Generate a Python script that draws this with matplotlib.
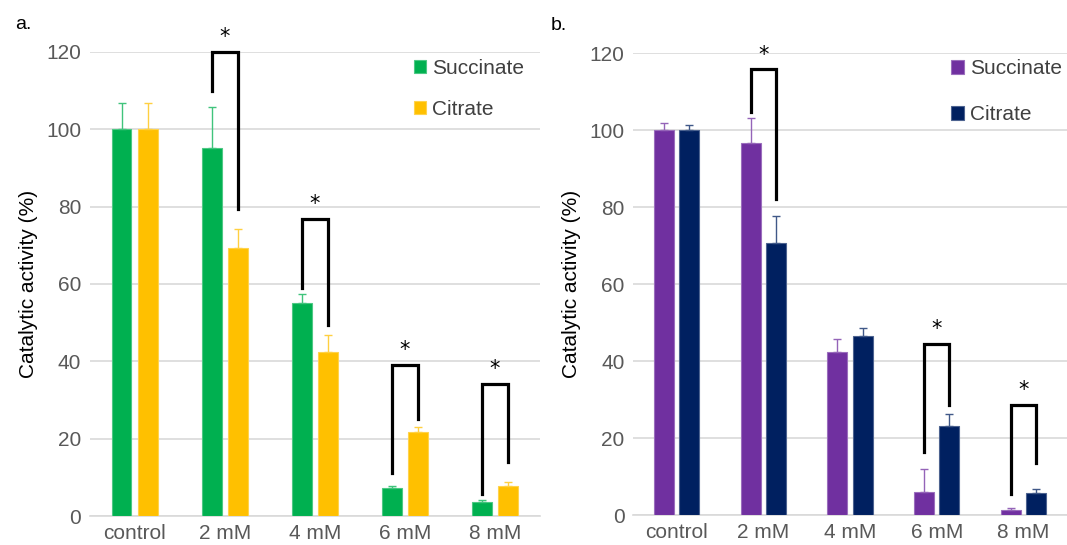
import numpy as np
import matplotlib
matplotlib.use("Agg")
import matplotlib.pyplot as plt

plt.rcParams['font.family'] = ['Liberation Sans', 'DejaVu Sans']

categories = ['control', '2 mM', '4 mM', '6 mM', '8 mM']
series_names = ['Succinate', 'Citrate']

# panel a
a_succ = [100, 95.3, 55.1, 7.2, 3.7]
a_succ_err = [6.8, 10.6, 2.2, 0.6, 0.5]
a_cit = [100, 69.2, 42.5, 21.6, 7.8]
a_cit_err = [6.8, 5.0, 4.2, 1.3, 0.9]
# brackets: category index, top, left leg bottom, right leg bottom
a_brackets = [(1, 120, 109.9, 79.3), (2, 76.9, 58.9, 49.3),
              (3, 39.1, 11.1, 25.2), (4, 34.2, 5.8, 13.9)]

# panel b
b_succ = [100, 96.7, 42.3, 5.9, 1.4]
b_succ_err = [1.8, 6.5, 3.3, 6.0, 0.3]
b_cit = [100, 70.6, 46.5, 23.0, 5.6]
b_cit_err = [1.4, 7.0, 2.1, 3.2, 1.2]
b_brackets = [(1, 115.8, 104.6, 82.2), (3, 44.5, 16.3, 28.5),
              (4, 28.6, 5.4, 13.5)]

yticks = [0, 20, 40, 60, 80, 100, 120]

fig = plt.figure(figsize=(10.67, 5.45), dpi=100)


def lighten(c, amt):
    r, g, b, _ = matplotlib.colors.to_rgba(c)
    return (r + (1 - r) * amt, g + (1 - g) * amt, b + (1 - b) * amt)


def draw_panel(ax, succ, succ_err, cit, cit_err, brackets, colors, label, width, offset, label_x):
    x = np.arange(len(categories))
    ax.bar(x - offset, succ, width, color=colors[0], edgecolor=lighten(colors[0], 0.3),
           linewidth=0.8, label=series_names[0], zorder=3)
    ax.bar(x + offset, cit, width, color=colors[1], edgecolor=lighten(colors[1], 0.3),
           linewidth=0.8, label=series_names[1], zorder=3)
    ax.errorbar(x - offset, succ, yerr=[np.zeros(len(x)), succ_err], fmt='none',
                ecolor=lighten(colors[0], 0.25), elinewidth=1, capsize=3, capthick=1, zorder=4)
    ax.errorbar(x + offset, cit, yerr=[np.zeros(len(x)), cit_err], fmt='none',
                ecolor=lighten(colors[1], 0.25), elinewidth=1, capsize=3, capthick=1, zorder=4)

    # significance brackets
    for i, top, lbot, rbot in brackets:
        xl, xr = i - offset, i + offset
        ax.plot([xl, xl, xr, xr], [lbot, top, top, rbot], color='black', lw=2.3,
                solid_joinstyle='miter', zorder=5, clip_on=False)
        ax.text(i, top + 1.2, '*', ha='center', va='bottom', fontsize=15,
                family='DejaVu Sans', zorder=5, clip_on=False)

    ax.set_xlim(-0.5, len(categories) - 0.5)
    ax.set_ylim(0, 120)
    ax.set_yticks(yticks)
    ax.set_xticks(x)
    ax.set_xticklabels(categories)
    ax.tick_params(length=0, labelsize=15, colors='#595959', pad=6)
    ax.yaxis.grid(True, color='#d9d9d9', lw=1.2, zorder=0)
    ax.set_axisbelow(True)
    for s in ['top', 'right', 'left']:
        ax.spines[s].set_visible(False)
    ax.spines['bottom'].set_color('#d9d9d9')
    ax.spines['bottom'].set_linewidth(1.2)
    ax.set_ylabel('Catalytic activity (%)', fontsize=15, labelpad=6)
    ax.text(label_x, 1.05, label, transform=ax.transAxes, fontsize=14)


ax1 = fig.add_axes([0.0839, 0.0532, 0.4222, 0.8514])
draw_panel(ax1, a_succ, a_succ_err, a_cit, a_cit_err, a_brackets,
           ['#00B050', '#FFC000'], 'a.', 0.22, 0.145, -0.165)
ax1.legend(loc='upper left', bbox_to_anchor=(0.678, 1.025), frameon=False,
           fontsize=15, handlelength=0.6, handleheight=0.6,
           handletextpad=0.3, labelspacing=1.05, labelcolor='#404040')

ax2 = fig.add_axes([0.5932, 0.0550, 0.4068, 0.8477])
draw_panel(ax2, b_succ, b_succ_err, b_cit, b_cit_err, b_brackets,
           ['#7030A0', '#002060'], 'b.', 0.23, 0.145, -0.19)
ax2.legend(loc='upper left', bbox_to_anchor=(0.69, 1.027), frameon=False,
           fontsize=15, handlelength=0.6, handleheight=0.6,
           handletextpad=0.3, labelspacing=1.3, labelcolor='#404040')

fig.savefig('out.png', dpi=100)
